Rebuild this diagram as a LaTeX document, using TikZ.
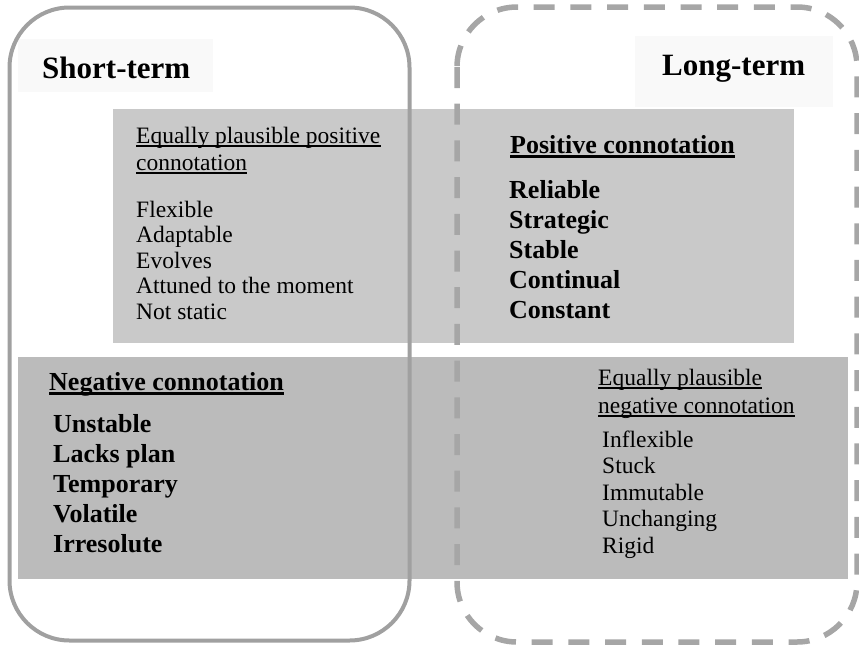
\documentclass[tikz,border=0pt]{standalone}
\usepackage{fontspec}
\setmainfont{Liberation Serif}
\definecolor{framegray}{HTML}{A0A0A0}
\definecolor{dashgray}{HTML}{A6A6A6}
\definecolor{posfill}{HTML}{C9C9C9}
\definecolor{negfill}{HTML}{BBBBBB}
\definecolor{tagfill}{HTML}{F9F9F9}
\begin{document}
\begin{tikzpicture}[x=1pt,y=-1pt,
  area/.style={inner sep=0pt, outer sep=0pt, anchor=north west, draw=none},
  tagbox/.style={area, fill=tagfill},
  posbox/.style={area, fill=posfill},
  negbox/.style={area, fill=negfill},
  solidframe/.style={draw=framegray, line width=4pt, rounded corners=60pt},
  dashframe/.style={draw=dashgray, line width=5.5pt, rounded corners=60pt,
                    dash pattern=on 21pt off 15.7pt},
  term/.style={inner sep=0pt, anchor=base west, font=\fontsize{31}{36}\selectfont\bfseries},
  plain/.style={inner sep=0pt, anchor=base west, font=\fontsize{23.5}{27}\selectfont},
  strong/.style={inner sep=0pt, anchor=base west, font=\fontsize{26}{30}\selectfont\bfseries},
  thinline/.style={line width=1.3pt},
  thickline/.style={line width=2.2pt}
]
\useasboundingbox (0,0) rectangle (859,645);

% shaded areas
\node[tagbox, minimum width=195pt, minimum height=53pt] (stbox) at (18,39) {};
\node[tagbox, minimum width=198pt, minimum height=71pt] (ltbox) at (635,36) {};
\node[posbox, minimum width=681pt, minimum height=234pt] (posarea) at (113,109) {};
\node[negbox, minimum width=830pt, minimum height=222pt] (negarea) at (18,357) {};

% the two time frames
\draw[solidframe] (9.5,7.5) rectangle (409.5,640.5);
\draw[dashframe] (457,7) rectangle (857,642);

% frame titles
\node[term] (st) at (42,78) {Short-term};
\node[term] (lt) at (662,75) {Long-term};

% short-term, positive reading
\node[plain] (sph1) at (136,143) {Equally plausible positive};
\node[plain] (sph2) at (136,170) {connotation};
\draw[thinline] ([yshift=-3pt]sph1.base west) -- ([yshift=-3pt]sph1.base east);
\draw[thinline] ([yshift=-3pt]sph2.base west) -- ([yshift=-3pt]sph2.base east);
\foreach \w [count=\i from 0] in {Flexible,Adaptable,Evolves,Attuned to the moment,Not static}
  \node[plain] (spi\i) at (136,217+25.5*\i) {\w};

% long-term, positive reading
\node[strong] (lph) at (510,153) {Positive connotation};
\draw[thickline] ([yshift=-3.5pt]lph.base west) -- ([yshift=-3.5pt]lph.base east);
\foreach \w [count=\i from 0] in {Reliable,Strategic,Stable,Continual,Constant}
  \node[strong] (lpi\i) at (509,198+30*\i) {\w};

% short-term, negative reading
\node[strong] (snh) at (49,390) {Negative connotation};
\draw[thickline] ([yshift=-3.5pt]snh.base west) -- ([yshift=-3.5pt]snh.base east);
\foreach \w [count=\i from 0] in {Unstable,Lacks plan,Temporary,Volatile,Irresolute}
  \node[strong] (sni\i) at (53,432+30*\i) {\w};

% long-term, negative reading
\node[plain] (lnh1) at (598,385) {Equally plausible};
\node[plain] (lnh2) at (598,413) {negative connotation};
\draw[thinline] ([yshift=-3pt]lnh1.base west) -- ([yshift=-3pt]lnh1.base east);
\draw[thinline] ([yshift=-3pt]lnh2.base west) -- ([yshift=-3pt]lnh2.base east);
\foreach \w [count=\i from 0] in {Inflexible,Stuck,Immutable,Unchanging,Rigid}
  \node[plain] (lni\i) at (602,447+26.5*\i) {\w};
\end{tikzpicture}
\end{document}
